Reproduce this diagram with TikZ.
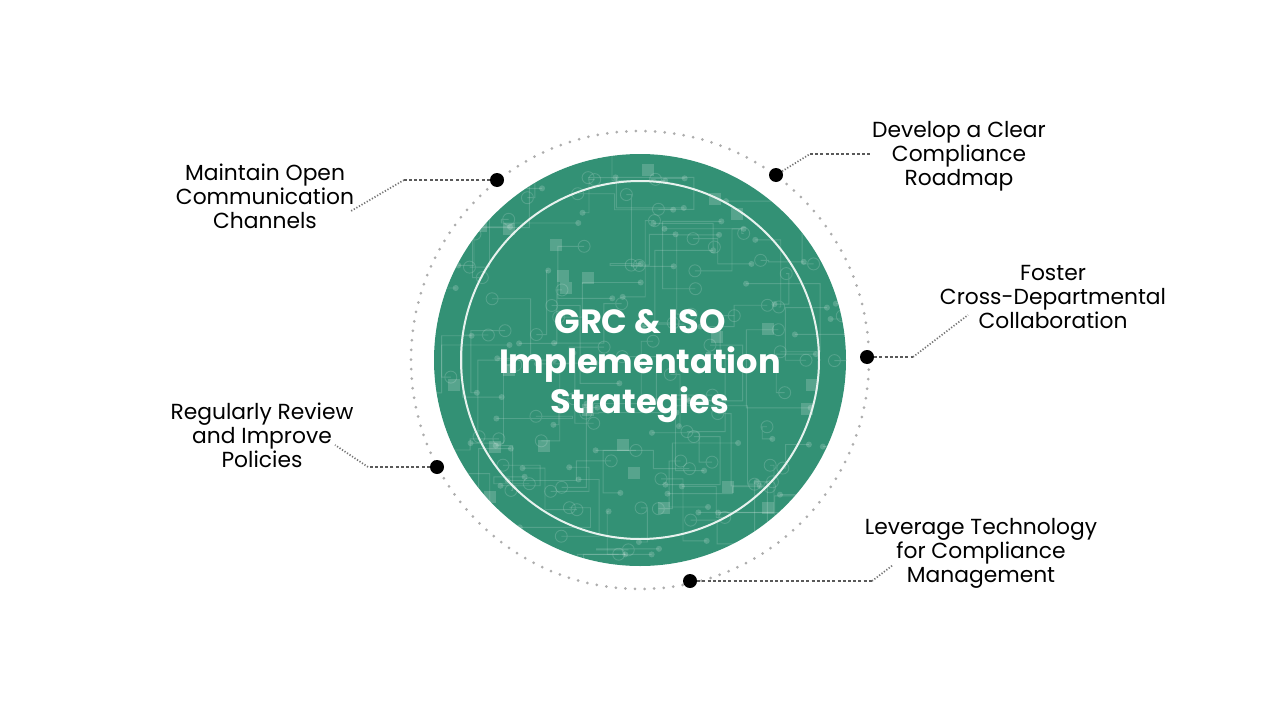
\documentclass[tikz,border=0pt]{standalone}
\usepackage{fontspec}
\setmainfont{Poppins}
\definecolor{grcgreen}{RGB}{51,145,117}
\begin{document}
\begin{tikzpicture}[x=1pt,y=-1pt,
  blackdot/.style={circle,fill=black,inner sep=0pt,minimum size=14pt},
  lbl/.style={align=center,font=\fontsize{21.8}{24}\selectfont,text=black,inner sep=0pt},
  titletext/.style={align=center,font=\bfseries\fontsize{33.6}{40}\selectfont,text=white,inner sep=0pt},
  hdash/.style={draw=black!65,line width=1.1pt,dash pattern=on 3pt off 2.2pt},
  ddot/.style={draw=black!55,line width=1.7pt,dash pattern=on 1.2pt off 1.8pt},
  ringdot/.style={draw=black!32,line width=3pt,line cap=round,dash pattern=on 0pt off 9.6pt},
  circ/.style={draw=white,draw opacity=0.16,line width=0.9pt},
  circf/.style={fill=white,fill opacity=0.18},
]
\useasboundingbox (0,0) rectangle (1280,720);
\fill[white] (0,0) rectangle (1280,720);

% dotted ring
\draw[ringdot] (640,360) circle (229);

% green disc
\fill[grcgreen] (640,360) circle (206);

% circuit pattern
\begin{scope}
\clip (640,360) circle (206);
\pgfmathsetseed{12}
\foreach \i in {1,...,110}{
  \pgfmathsetmacro\px{640+200*rand}
  \pgfmathsetmacro\py{360+200*rand}
  \pgfmathsetmacro\dx{80*rand}
  \pgfmathsetmacro\dy{80*rand}
  \pgfmathsetmacro\ex{40*rand}
  \draw[circ] (\px,\py) -- ++(\dx,0) -- ++(0,\dy) -- ++(\ex,0) circle (6);
  \fill[circf] (\px,\py) circle (3);
}
\foreach \i in {1,...,24}{
  \pgfmathsetmacro\px{640+190*rand}
  \pgfmathsetmacro\py{360+190*rand}
  \fill[circf] (\px-6,\py-6) rectangle (\px+6,\py+6);
}
\end{scope}

% inner white ring
\draw[white!88!grcgreen,line width=2pt] (640,360) circle (179);

% title
\node[titletext] (title) at (640,366) {GRC \& ISO\\Implementation\\Strategies};

% dots
\node[blackdot] (d1) at (497,180) {};
\node[blackdot] (d2) at (776,175) {};
\node[blackdot] (d3) at (867,357) {};
\node[blackdot] (d4) at (437,467) {};
\node[blackdot] (d5) at (690,581) {};

% labels
\node[lbl] (t1) at (265,196) {Maintain Open\\Communication\\Channels};
\node[lbl] (t2) at (959,156) {Develop a Clear\\Compliance\\Roadmap};
\node[lbl] (t3) at (1053,297) {Foster\\Cross-Departmental\\Collaboration};
\node[lbl] (t4) at (262,435) {Regularly Review\\and Improve\\Policies};
\node[lbl] (t5) at (981,553) {Leverage Technology\\for Compliance\\Management};

% leader lines
\coordinate (b1) at (404,180);
\coordinate (e1) at (351,211);
\draw[hdash] (d1) -- (b1);
\draw[ddot] (b1) -- (e1);

\coordinate (b2) at (810,154);
\coordinate (e2) at (871,154);
\draw[ddot] (d2) -- (b2);
\draw[hdash] (b2) -- (e2);

\coordinate (b3) at (913,357);
\coordinate (e3) at (968,315);
\draw[hdash] (d3) -- (b3);
\draw[ddot] (b3) -- (e3);

\coordinate (b4) at (368,467);
\coordinate (e4) at (335,445);
\draw[hdash] (d4) -- (b4);
\draw[ddot] (b4) -- (e4);

\coordinate (b5) at (872,581);
\coordinate (e5) at (893,565);
\draw[hdash] (d5) -- (b5);
\draw[ddot] (b5) -- (e5);
\end{tikzpicture}
\end{document}
